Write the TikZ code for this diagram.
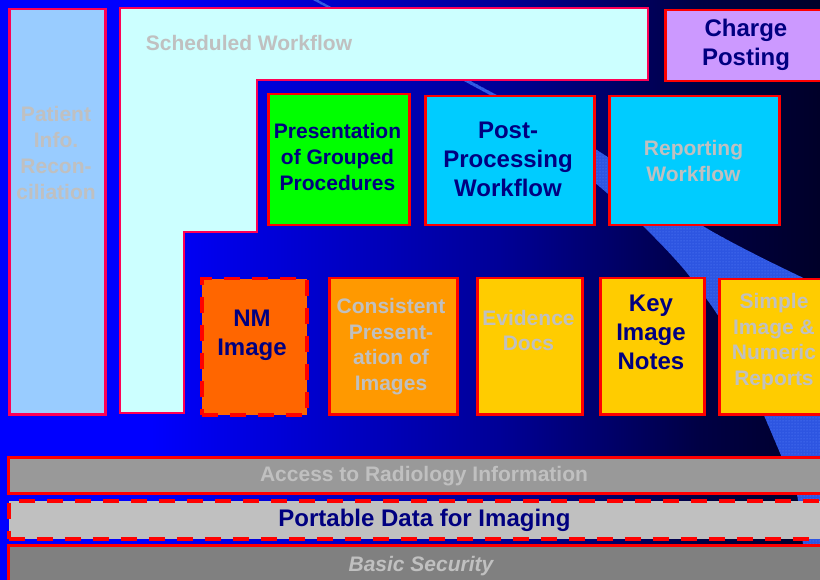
\documentclass[tikz,border=0pt]{standalone}
\usepackage{fontspec}
\setmainfont{Liberation Sans}
\usepackage{xcolor}
\usetikzlibrary{patterns}

\definecolor{navytext}{RGB}{0,0,128}
\definecolor{graytext}{RGB}{192,192,192}
\definecolor{boxred}{RGB}{255,0,0}
\definecolor{pinkred}{RGB}{255,0,85}
\definecolor{patientfill}{RGB}{153,204,255}
\definecolor{schedfill}{RGB}{204,255,255}
\definecolor{chargefill}{RGB}{204,153,255}
\definecolor{groupfill}{RGB}{0,255,0}
\definecolor{wfcyan}{RGB}{0,204,255}
\definecolor{nmfill}{RGB}{255,102,0}
\definecolor{cpifill}{RGB}{255,153,0}
\definecolor{goldfill}{RGB}{255,204,0}
\definecolor{accessfill}{RGB}{153,153,153}
\definecolor{pdifill}{RGB}{192,192,192}
\definecolor{secfill}{RGB}{128,128,128}
\definecolor{swooshblue}{RGB}{45,85,225}
\definecolor{swooshdot}{RGB}{95,135,255}

\pgfdeclarehorizontalshading{bgblue}{100bp}{rgb(0bp)=(0,0,1); rgb(34bp)=(0,0,1);
  rgb(40bp)=(0,0,.88); rgb(55.5bp)=(0,0,.59); rgb(67.5bp)=(0,0,.27);
  rgb(75bp)=(0,0,.16); rgb(100bp)=(0,0,.16)}

\newcommand{\swooshpath}{plot[smooth] coordinates {(490,95) (600,187) (643,226) (687,273)
  (730,335) (763,413) (780,453) (797,495) (803,545) (806,580)}
  -- (820,580) -- (820,286)
  -- plot[smooth] coordinates {(793,273) (703,226) (600,152) (493,93)} -- (318,0) -- (313,0) -- cycle}

\begin{document}
\begin{tikzpicture}[x=1pt,y=-1pt,
  box/.style={draw=boxred, line width=2.5pt, inner sep=0pt, anchor=north west},
  dashbox/.style={box, dash pattern=on 16pt off 12pt, line width=3.5pt},
  graytxt/.style={text=graytext, font=\fontsize{21}{25.7}\selectfont\bfseries, align=center, inner sep=0pt},
  navytxt/.style={text=navytext, font=\fontsize{21}{26}\selectfont\bfseries, align=center, inner sep=0pt},
  bignavy/.style={text=navytext, font=\fontsize{24}{29}\selectfont\bfseries, align=center, inner sep=0pt}]
\useasboundingbox (0,0) rectangle (820,580);
\clip (0,0) rectangle (820,580);
\shade[shading=bgblue] (0,0) rectangle (820,580);

\fill[swooshblue] \swooshpath;
\fill[pattern=dots, pattern color=swooshdot] \swooshpath;

\node[box, draw=pinkred, fill=patientfill, minimum width=96pt, minimum height=405pt] (patient) at (8,8) {};
\node[graytxt] (patient-t) at (56,153) {Patient\\Info.\\Recon-\\ciliation};

\draw[draw=pinkred, line width=2.5pt, fill=schedfill] (120,8) -- (648,8) -- (648,80) -- (257,80)
  -- (257,232) -- (184,232) -- (184,413) -- (120,413) -- cycle;
\node[graytxt] (sched-t) at (249,42.5) {Scheduled Workflow};

\node[box, fill=chargefill, minimum width=164pt, minimum height=71pt] (charge) at (664,9) {};
\node[bignavy] (charge-t) at (746,44.5) {Charge\\Posting};

\node[box, fill=groupfill, minimum width=141pt, minimum height=131pt] (grouped) at (267,93) {};
\node[navytxt] (grouped-t) at (337.5,157) {Presentation\\of Grouped\\Procedures};

\node[box, fill=wfcyan, minimum width=169pt, minimum height=129pt] (postproc) at (424,95) {};
\node[bignavy] (postproc-t) at (508,159.5) {Post-\\Processing\\Workflow};

\node[box, fill=wfcyan, minimum width=170pt, minimum height=129pt] (reporting) at (608,95) {};
\node[graytxt] (reporting-t) at (693.5,161) {Reporting\\Workflow};

\node[dashbox, fill=nmfill, minimum width=105pt, minimum height=136pt] (nm) at (200,277) {};
\node[bignavy] (nm-t) at (252,335) {NM\\Image};

\node[box, fill=cpifill, minimum width=128pt, minimum height=136pt] (cpi) at (328,277) {};
\node[graytxt] (cpi-t) at (391,346.5) {Consistent\\Present-\\ation of\\Images};

\node[box, fill=goldfill, minimum width=105pt, minimum height=136pt] (evidence) at (476,277) {};
\node[graytxt] (evidence-t) at (528.5,330.5) {Evidence\\Docs};

\node[box, fill=goldfill, minimum width=104pt, minimum height=136pt] (keyimage) at (599,277) {};
\node[bignavy] (keyimage-t) at (651,332) {Key\\Image\\Notes};

\node[box, fill=goldfill, minimum width=112pt, minimum height=135pt] (simple) at (718,278) {};
\node[graytxt] (simple-t) at (774,341.5) {Simple\\Image \&\\Numeric\\Reports};

\node[box, fill=accessfill, minimum width=834pt, minimum height=36pt] (access) at (7,456) {};
\node[graytxt] (access-t) at (424,476) {Access to Radiology Information};

\node[dashbox, fill=pdifill, minimum width=834pt, minimum height=38pt] (pdi) at (7,499) {};
\node[bignavy] (pdi-t) at (424.5,520.5) {Portable Data for Imaging};

\node[box, fill=secfill, minimum width=828pt, minimum height=46pt] (security) at (7,544) {};
\node[graytxt, font=\fontsize{21}{25.7}\selectfont\bfseries\itshape] (security-t) at (421,566.5) {Basic Security};
\end{tikzpicture}
\end{document}
